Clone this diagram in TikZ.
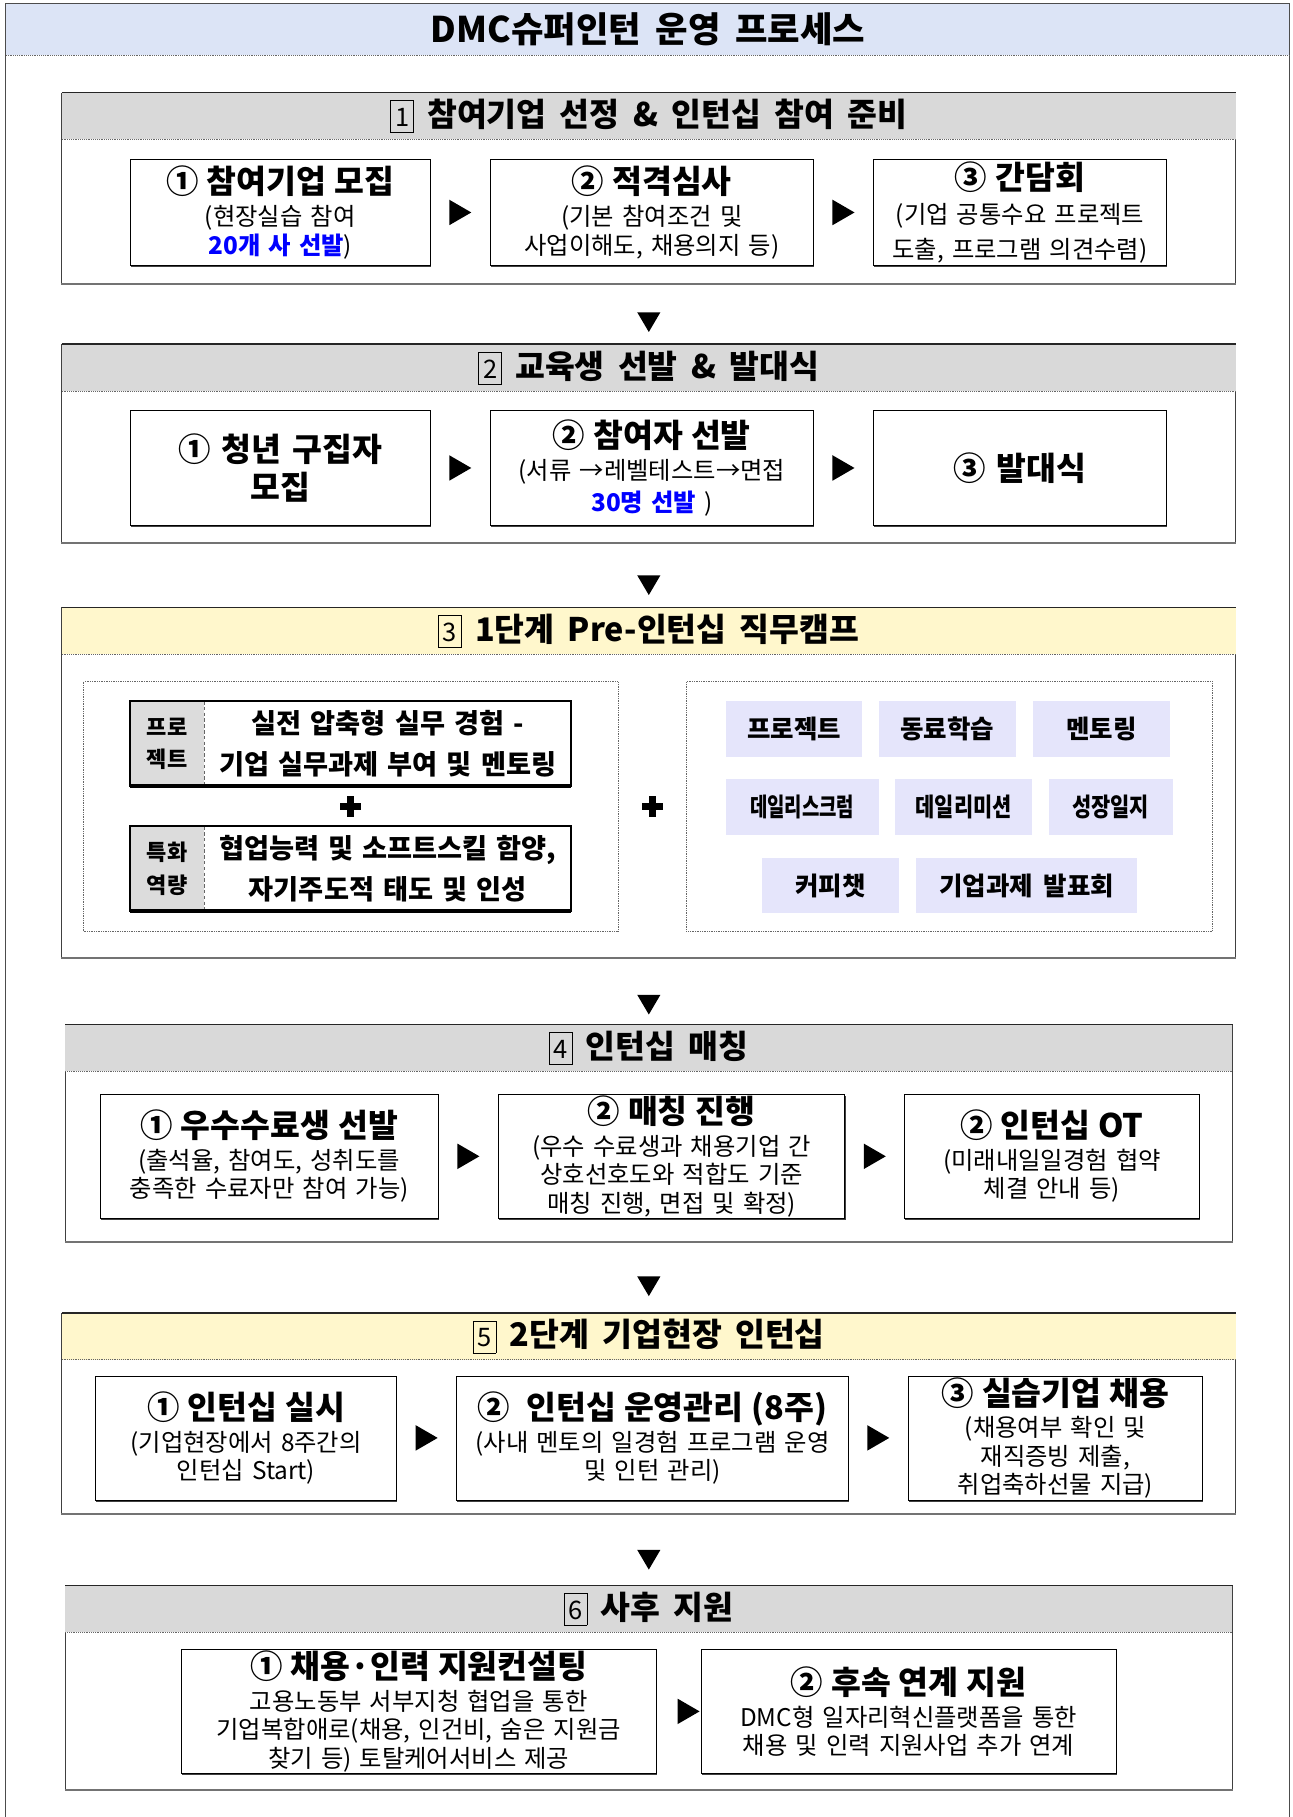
\documentclass[tikz,border=0pt]{standalone}
\usepackage{fontspec}
\setmainfont[WordSpace=1.8]{Noto Sans CJK KR}
\usetikzlibrary{positioning,calc,shadows}

\definecolor{bandblue}{RGB}{220,228,246}
\definecolor{hdgray}{RGB}{217,217,217}
\definecolor{hdyellow}{RGB}{255,247,204}
\definecolor{chipblue}{RGB}{229,229,251}
\definecolor{labgray}{RGB}{220,220,220}

\newcommand{\secnum}[1]{{\setlength{\fboxsep}{1pt}\setlength{\fboxrule}{0.6pt}\fbox{\mdseries\fontsize{22}{22}\selectfont\raisebox{0pt}[21pt][4pt]{\makebox[17pt]{#1}}}}}
\newcommand{\ttl}{\bfseries\fontsize{28}{32}\selectfont}
\newcommand{\hi}[1]{\textcolor{blue}{\bfseries #1}}
\newcommand{\narrow}[2]{\scalebox{#1}[1]{#2}}
\newcommand{\rtri}[1]{\fill #1 ++(-9.5,-11) -- ++(19,11) -- ++(-19,11) -- cycle;}
\newcommand{\dtri}[1]{\fill #1 ++(-10,-8.5) -- ++(20,0) -- ++(-10,17) -- cycle;}
\newcommand{\plusmark}[1]{\fill #1 ++(-9,-3) rectangle ++(18,6); \fill #1 ++(-3,-9) rectangle ++(6,18);}

\begin{document}
\begin{tikzpicture}[x=1pt, y=-1pt, node distance=51pt,
  secbox/.style={draw=black!75, line width=0.8pt, anchor=north west, inner sep=0pt},
  hdband/.style={anchor=north, inner sep=0pt, minimum height=40pt, font=\bfseries\fontsize{28}{30}\selectfont},
  subbox/.style={draw, fill=white, line width=0.7pt, inner xsep=0pt, inner ysep=0pt, align=center, font=\fontsize{21}{24.5}\selectfont, drop shadow={shadow xshift=0.6pt, shadow yshift=-1.4pt, fill=black!75, opacity=1}},
  chip/.style={fill=chipblue, minimum height=48pt, inner sep=0pt, font=\bfseries\fontsize{22}{24}\selectfont},
  tablab/.style={fill=labgray, minimum width=64pt, minimum height=73pt, inner sep=0pt, align=center, font=\bfseries\fontsize{19}{28}\selectfont},
  tabtxt/.style={text width=316pt, minimum height=73pt, inner sep=0pt, align=center, font=\bfseries\fontsize{23.5}{36}\selectfont},
  campbox/.style={draw=black!60, densely dotted, line width=0.5pt, anchor=north west, inner sep=0pt},
  dotline/.style={black!60, densely dotted, line width=0.6pt},
  topedge/.style={black!85, line width=1.2pt},
  botedge/.style={black!55, line width=1.6pt}]

  \useasboundingbox (0,0) rectangle (1115,1568);

  \node[fill=bandblue, anchor=north west, minimum width=1108pt, minimum height=44pt, inner sep=0pt, font=\bfseries\fontsize{30.5}{32}\selectfont] (title) at (5,3) {DMC슈퍼인턴 운영 프로세스};
  \draw[black!70, line width=0.8pt] (title.north west) rectangle (1113,1600);
  \draw[dotline] (title.south west) -- (title.south east);

  % 1
  \node[secbox, minimum width=1013pt, minimum height=164pt] (sec1) at (53,80) {};
  \node[hdband, fill=hdgray, minimum width=1013pt] (hd1) at (sec1.north) {\secnum{1} 참여기업 선정 \& 인턴십 참여 준비};
  \draw[topedge] (hd1.north west) -- (hd1.north east);
  \draw[dotline] (hd1.south west) -- (hd1.south east);
  \draw[botedge] (sec1.south west) -- (sec1.south east);

  \node[subbox, anchor=north west, text width=259pt, minimum height=92pt] (s1a) at (112,137) {{\ttl ① 참여기업 모집}\\[3.5pt](현장실습 참여\\\hi{20개 사 선발})};
  \node[subbox, text width=279pt, minimum height=92pt, right=of s1a] (s1b) {{\ttl ② 적격심사}\\[3.5pt](기본 참여조건 및\\사업이해도, 채용의지 등)};
  \node[subbox, text width=253pt, minimum height=92pt, right=of s1b] (s1c) {{\ttl ③ 간담회}\\[5pt](기업 공통수요 프로젝트\\[5pt]도출, 프로그램 의견수렴)};
  \rtri{($(s1a.east)!0.5!(s1b.west)$)}
  \rtri{($(s1b.east)!0.5!(s1c.west)$)}

  % 2
  \node[secbox, minimum width=1013pt, minimum height=171pt] (sec2) at (53,297) {};
  \node[hdband, fill=hdgray, minimum width=1013pt] (hd2) at (sec2.north) {\secnum{2} 교육생 선발 \& 발대식};
  \draw[topedge] (hd2.north west) -- (hd2.north east);
  \draw[dotline] (hd2.south west) -- (hd2.south east);
  \draw[botedge] (sec2.south west) -- (sec2.south east);
  \dtri{($(sec2.north)+(0,-19)$)}

  \node[subbox, anchor=north west, text width=259pt, minimum height=99pt, font=\ttl] (s2a) at (112,354) {① 청년 구집자\\모집};
  \node[subbox, text width=279pt, minimum height=99pt, right=of s2a] (s2b) {{\ttl ② 참여자 선발}\\[3.5pt](서류 →레벨테스트→면접\\[3.5pt]\hi{30명 선발} )};
  \node[subbox, text width=253pt, minimum height=99pt, right=of s2b, font=\ttl] (s2c) {③ 발대식};
  \rtri{($(s2a.east)!0.5!(s2b.west)$)}
  \rtri{($(s2b.east)!0.5!(s2c.west)$)}

  % 3
  \node[secbox, minimum width=1013pt, minimum height=302pt] (sec3) at (53,524) {};
  \node[hdband, fill=hdyellow, minimum width=1013pt] (hd3) at (sec3.north) {\secnum{3} 1단계 Pre-인턴십 직무캠프};
  \draw[topedge] (hd3.north west) -- (hd3.north east);
  \draw[dotline] (hd3.south west) -- (hd3.south east);
  \draw[botedge] (sec3.south west) -- (sec3.south east);
  \dtri{($(sec3.north)+(0,-19)$)}

  \node[campbox, minimum width=461pt, minimum height=215pt] (campL) at (72,588) {};
  \node[campbox, minimum width=454pt, minimum height=215pt] (campR) at (592,588) {};

  \node[tablab, anchor=north west] (lab1) at (112,605) {프로\\젝트};
  \node[tabtxt, right=0pt of lab1] (job1) {실전 압축형 실무 경험 -\\기업 실무과제 부여 및 멘토링};
  \draw[black!60, densely dashed, line width=0.5pt] (lab1.north east) -- (lab1.south east);
  \draw[line width=1.6pt] (lab1.north west) rectangle (job1.south east);
  \draw[line width=3.5pt] (lab1.south west) -- (job1.south east);

  \node[tablab, anchor=north west] (lab2) at (112,713) {특화\\역량};
  \node[tabtxt, right=0pt of lab2] (job2) {협업능력 및 소프트스킬 함양,\\자기주도적 태도 및 인성};
  \draw[black!60, densely dashed, line width=0.5pt] (lab2.north east) -- (lab2.south east);
  \draw[line width=1.6pt] (lab2.north west) rectangle (job2.south east);
  \draw[line width=3.5pt] (lab2.south west) -- (job2.south east);

  \plusmark{($(lab1.south west)!0.5!(job2.north east)$)}
  \plusmark{($(campL.east)!0.5!(campR.west)$)}

  \node[chip, anchor=north west, minimum width=118pt] (c1) at (626,605) {프로젝트};
  \node[chip, minimum width=118pt, right=14pt of c1] (c2) {동료학습};
  \node[chip, minimum width=119pt, right=14pt of c2] (c3) {멘토링};
  \node[chip, anchor=north west, minimum width=132pt] (c4) at (626,672) {\narrow{0.74}{데일리스크럼}};
  \node[chip, minimum width=118pt, right=14pt of c4] (c5) {\narrow{0.82}{데일리미션}};
  \node[chip, minimum width=107pt, right=14pt of c5] (c6) {\narrow{0.82}{성장일지}};
  \node[chip, anchor=north west, minimum width=119pt] (c7) at (657,740) {커피챗};
  \node[chip, minimum width=191pt, right=14pt of c7] (c8) {기업과제 발표회};

  % 4
  \node[secbox, minimum width=1007pt, minimum height=187pt] (sec4) at (56,884) {};
  \node[hdband, fill=hdgray, minimum width=1007pt] (hd4) at (sec4.north) {\secnum{4} 인턴십 매칭};
  \draw[topedge] (hd4.north west) -- (hd4.north east);
  \draw[dotline] (hd4.south west) -- (hd4.south east);
  \draw[botedge] (sec4.south west) -- (sec4.south east);
  \dtri{($(sec4.north)+(0,-17)$)}

  \node[subbox, anchor=north west, text width=292pt, minimum height=107pt] (s4a) at (86,944) {{\ttl ① 우수수료생 선발}\\[3pt](출석율, 참여도, 성취도를\\충족한 수료자만 참여 가능)};
  \node[subbox, text width=299pt, minimum height=107pt, right=of s4a] (s4b) {{\ttl ② 매칭 진행}\\[3pt](우수 수료생과 채용기업 간\\상호선호도와 적합도 기준\\매칭 진행, 면접 및 확정)};
  \node[subbox, text width=254pt, minimum height=107pt, right=of s4b] (s4c) {{\ttl ② 인턴십 OT}\\[3pt](미래내일일경험 협약\\체결 안내 등)};
  \rtri{($(s4a.east)!0.5!(s4b.west)$)}
  \rtri{($(s4b.east)!0.5!(s4c.west)$)}

  % 5
  \node[secbox, minimum width=1013pt, minimum height=173pt] (sec5) at (53,1133) {};
  \node[hdband, fill=hdyellow, minimum width=1013pt] (hd5) at (sec5.north) {\secnum{5} 2단계 기업현장 인턴십};
  \draw[topedge] (hd5.north west) -- (hd5.north east);
  \draw[dotline] (hd5.south west) -- (hd5.south east);
  \draw[botedge] (sec5.south west) -- (sec5.south east);
  \dtri{($(sec5.north)+(0,-23)$)}

  \node[subbox, anchor=north west, text width=260pt, minimum height=107pt] (s5a) at (82,1187) {{\ttl ① 인턴십 실시}\\[3pt](기업현장에서 8주간의\\인턴십 Start)};
  \node[subbox, text width=338pt, minimum height=107pt, right=of s5a] (s5b) {{\ttl ②\ \ 인턴십 운영관리 (8주)}\\[3pt](사내 멘토의 일경험 프로그램 운영\\및 인턴 관리)};
  \node[subbox, text width=254pt, minimum height=107pt, right=of s5b] (s5c) {{\ttl ③ 실습기업 채용}\\[3pt](채용여부 확인 및\\재직증빙 제출,\\취업축하선물 지급)};
  \rtri{($(s5a.east)!0.5!(s5b.west)$)}
  \rtri{($(s5b.east)!0.5!(s5c.west)$)}

  % 6
  \node[secbox, minimum width=1007pt, minimum height=176pt] (sec6) at (56,1368) {};
  \node[hdband, fill=hdgray, minimum width=1007pt] (hd6) at (sec6.north) {\secnum{6} 사후 지원};
  \draw[topedge] (hd6.north west) -- (hd6.north east);
  \draw[dotline] (hd6.south west) -- (hd6.south east);
  \draw[botedge] (sec6.south west) -- (sec6.south east);
  \dtri{($(sec6.north)+(0,-22)$)}

  \node[subbox, anchor=north west, text width=410pt, minimum height=107pt] (s6a) at (156,1423) {{\ttl ① 채용·인력 지원컨설팅}\\[3pt]고용노동부 서부지청 협업을 통한\\기업복합애로(채용, 인건비, 숨은 지원금\\찾기 등) 토탈케어서비스 제공};
  \node[subbox, text width=358pt, minimum height=107pt, right=38pt of s6a] (s6b) {{\ttl ② 후속 연계 지원}\\[3pt]DMC형 일자리혁신플랫폼을 통한\\채용 및 인력 지원사업 추가 연계};
  \rtri{($(s6b.west)+(-10.5,0)$)}
\end{tikzpicture}
\end{document}
